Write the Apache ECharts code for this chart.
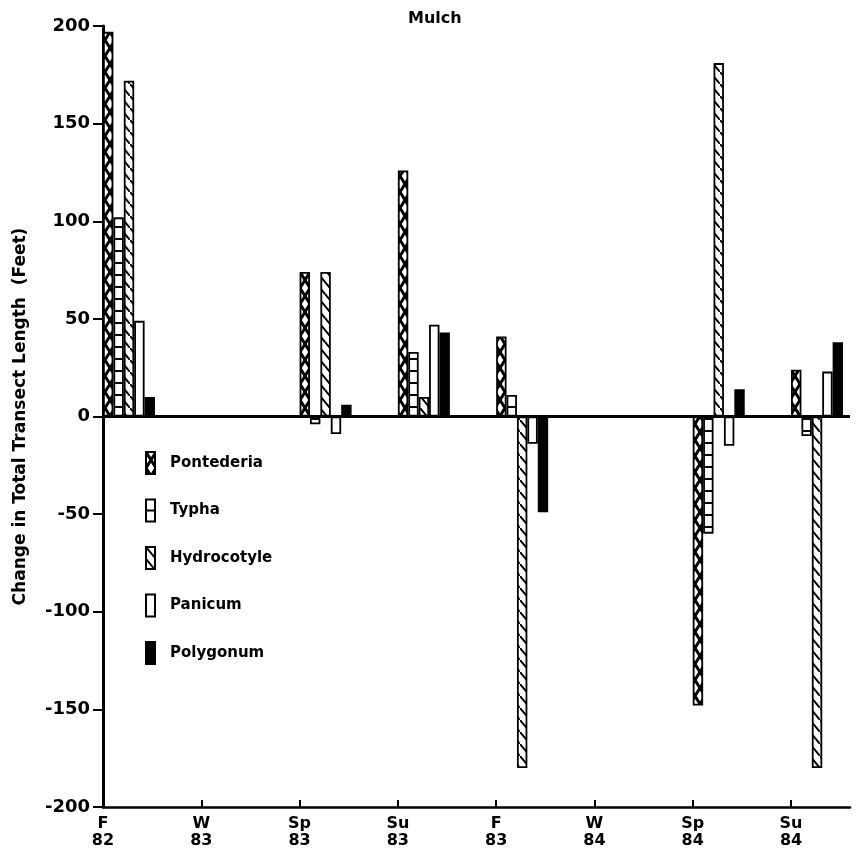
<!DOCTYPE html>
<html>
<head>
<meta charset="utf-8">
<script src="https://cdn.jsdelivr.net/npm/echarts@6/dist/echarts.min.js"></script>
<style>
  html, body { margin: 0; padding: 0; background: #fff; }
  #chart { width: 860px; height: 862px; }
</style>
</head>
<body>
<div id="chart"></div>
<script>
// estações / anos no eixo x
const seasons = ['F', 'W', 'Sp', 'Su', 'F', 'W', 'Sp', 'Su'];
const years = ['82', '83', '83', '83', '83', '84', '84', '84'];

// valores (pés); null = sem barra
const pontederia = [197, null, 74, 126, 41, null, -148, 24];
const typha = [102, null, -4, 33, 11, null, -60, -10];
const hydrocotyle = [172, null, 74, 10, -180, null, 181, -180];
const panicum = [49, null, -9, 47, -14, null, -15, 23];
const polygonum = [10, null, 6, 43, -49, null, 14, 38];

const speciesNames = ['Pontederia', 'Typha', 'Hydrocotyle', 'Panicum', 'Polygonum'];
const speciesData = [pontederia, typha, hydrocotyle, panicum, polygonum];

const yTicks = [-200, -150, -100, -50, 0, 50, 100, 150, 200];

const FONT = '"DejaVu Sans", sans-serif';

function makePattern(w, h, draw) {
  const c = document.createElement('canvas');
  c.width = w;
  c.height = h;
  const ctx = c.getContext('2d');
  ctx.fillStyle = '#fff';
  ctx.fillRect(0, 0, w, h);
  ctx.strokeStyle = '#000';
  ctx.fillStyle = '#000';
  draw(ctx);
  return { image: c, repeat: 'repeat' };
}

// hachuras de cada espécie
const fills = [
  makePattern(10, 16, ctx => {
    ctx.lineWidth = 3;
    ctx.beginPath();
    ctx.moveTo(0, 0); ctx.lineTo(10, 16);
    ctx.moveTo(10, 0); ctx.lineTo(0, 16);
    ctx.stroke();
  }),
  makePattern(10, 12, ctx => {
    ctx.fillRect(0, 10, 10, 2);
  }),
  makePattern(10, 12, ctx => {
    ctx.lineWidth = 2;
    ctx.beginPath();
    ctx.moveTo(-2, -2.4); ctx.lineTo(12, 14.4);
    ctx.stroke();
  }),
  '#fff',
  '#000'
];

function toPairs(arr) {
  return arr.map((v, i) => [i, v == null ? '-' : v]);
}

const series = [];
// séries vazias para empurrar o grupo de barras para a direita do tick
for (let k = 0; k < 5; k++) {
  series.push({
    name: '_pad' + k,
    type: 'bar',
    data: seasons.map((s, i) => [i, '-']),
    barWidth: 10.4,
    barGap: '0%',
    silent: true
  });
}
speciesNames.forEach((name, k) => {
  const s = {
    name: name,
    type: 'bar',
    data: toPairs(speciesData[k]),
    barWidth: 10.4,
    barGap: '0%',
    itemStyle: {
      color: fills[k],
      borderColor: '#000',
      borderWidth: 1.8
    }
  };
  if (k === 0) {
    s.markLine = {
      silent: true,
      symbol: 'none',
      label: { show: false },
      lineStyle: { color: '#000', width: 3, type: 'solid' },
      data: [{ yAxis: 0 }]
    };
  }
  series.push(s);
});

const chart = echarts.init(document.getElementById('chart'));

chart.setOption({
  animation: false,
  backgroundColor: '#fff',
  title: {
    text: 'Mulch',
    left: 403,
    top: 6,
    textStyle: { fontFamily: FONT, fontWeight: 'bold', fontSize: 16, color: '#000' }
  },
  legend: {
    data: speciesNames,
    orient: 'vertical',
    left: 140,
    top: 446,
    itemWidth: 9,
    itemHeight: 22,
    itemGap: 23.5,
    icon: 'rect',
    textStyle: { fontFamily: FONT, fontWeight: 'bold', fontSize: 15, color: '#000', padding: [0, 0, 0, 10] }
  },
  grid: { left: 103, right: 10, top: 26, bottom: 55, containLabel: false },
  xAxis: {
    type: 'value',
    min: 0,
    max: 7.6,
    interval: 1,
    splitLine: { show: false },
    axisLine: { show: true, onZero: false, lineStyle: { color: '#000', width: 2.5 } },
    axisTick: {
      show: true,
      inside: true,
      length: 7,
      customValues: seasons.map((s, i) => i),
      lineStyle: { color: '#000', width: 2 }
    },
    axisLabel: {
      customValues: seasons.map((s, i) => i),
      formatter: v => seasons[v] + '\n' + years[v],
      color: '#000',
      fontFamily: FONT,
      fontWeight: 'bold',
      fontSize: 16,
      lineHeight: 17,
      margin: 8
    }
  },
  yAxis: {
    type: 'value',
    min: -200,
    max: 200,
    interval: 50,
    name: 'Change in Total Transect Length  (Feet)',
    nameLocation: 'middle',
    nameGap: 74,
    nameTextStyle: { fontFamily: FONT, fontWeight: 'bold', fontSize: 17, color: '#000' },
    splitLine: { show: false },
    axisLine: { show: true, lineStyle: { color: '#000', width: 3 } },
    axisTick: { show: true, length: 10, lineStyle: { color: '#000', width: 2 } },
    axisLabel: {
      color: '#000',
      fontFamily: FONT,
      fontWeight: 'bold',
      fontSize: 18,
      margin: 13,
      customValues: yTicks
    }
  },
  series: series
});
</script>
</body>
</html>
